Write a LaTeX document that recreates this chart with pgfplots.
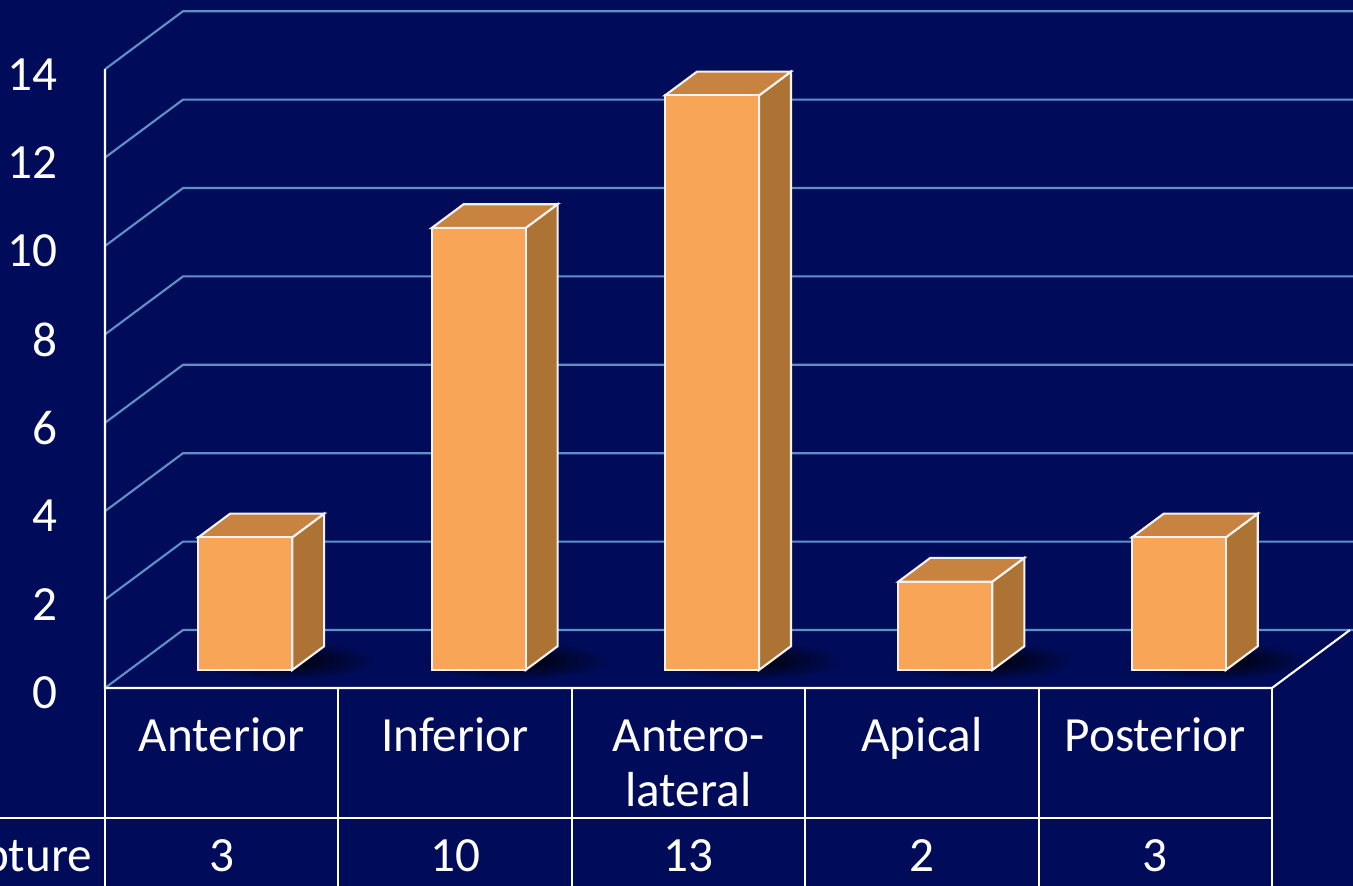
\documentclass[border=0pt]{standalone}
\usepackage{pgfplots}
\pgfplotsset{compat=1.18}
\usepackage{pgfplotstable}
\usepackage{fontspec}
\setmainfont{Carlito}

\definecolor{bg}{RGB}{0,12,90}
\definecolor{gridblue}{RGB}{95,145,200}
\definecolor{barfront}{RGB}{249,165,88}
\definecolor{bartop}{RGB}{201,131,65}
\definecolor{barside}{RGB}{172,115,52}
\definecolor{edge}{RGB}{242,242,242}

% Ruptures by wall segment
\pgfplotstableread{
idx value
0 3
1 10
2 13
3 2
4 3
}\ruptures

\begin{document}
\begin{tikzpicture}[font=\fontsize{14}{16}\selectfont]
\useasboundingbox (0,0) rectangle (13.53cm,8.86cm);
\clip (0,0) rectangle (13.53cm,8.86cm);
\begin{axis}[
  at={(0,0)}, anchor=south west,
  width=13.53cm, height=8.86cm, scale only axis,
  xmin=-0.45, xmax=5.347, ymin=-4.48, ymax=15.566,
  hide axis, clip=false,
]
% background
\fill[bg] (axis cs:-0.45,-4.48) rectangle (axis cs:5.347,15.566);

% back wall and side wall grid (depth vector 0.3342, 1.3122)
\pgfplotsforeachungrouped \t in {0,2,...,14}{
  \pgfmathsetmacro\tb{\t+1.3122}
  \edef\temp{\noexpand\addplot[gridblue, line width=0.6pt] coordinates {(0,\t) (0.3342,\tb) (5.347,\tb)};}
  \temp
}

% shadows on the floor
\pgfplotsforeachungrouped \i in {0,...,4}{
  \pgfmathsetmacro\sx{\i+0.76}
  \edef\temp{\noexpand\shade[inner color=black, outer color=bg] (axis cs:\sx,0.62) ellipse [x radius=0.95cm, y radius=0.2cm];}
  \temp
}

% bars: front, top and side faces
\pgfplotsforeachungrouped \i in {0,...,4}{
  \pgfplotstablegetelem{\i}{value}\of\ruptures
  \pgfmathsetmacro\v{\pgfplotsretval}
  \pgfmathsetmacro\xl{\i+0.3993}
  \pgfmathsetmacro\xr{\xl+0.4027}
  \pgfmathsetmacro\xld{\xl+0.137}
  \pgfmathsetmacro\xrd{\xr+0.137}
  \pgfmathsetmacro\yb{0.407}
  \pgfmathsetmacro\ybd{\yb+0.538}
  \pgfmathsetmacro\yt{\yb+\v}
  \pgfmathsetmacro\ytd{\yt+0.538}
  \edef\temp{%
    \noexpand\addplot[fill=barside, draw=edge, line width=0.6pt] coordinates {(\xr,\yb) (\xrd,\ybd) (\xrd,\ytd) (\xr,\yt)} --cycle;
    \noexpand\addplot[fill=bartop, draw=edge, line width=0.6pt] coordinates {(\xl,\yt) (\xr,\yt) (\xrd,\ytd) (\xld,\ytd)} --cycle;
    \noexpand\addplot[fill=barfront, draw=edge, line width=0.6pt] coordinates {(\xl,\yb) (\xr,\yb) (\xr,\yt) (\xl,\yt)} --cycle;
  }
  \temp
}

% value axis and floor edges
\addplot[white, line width=0.6pt] coordinates {(0,14) (0,0) (5,0) (5.3342,1.3122)};

% data table grid
\addplot[white, line width=0.6pt] coordinates {(-0.45,-2.941) (5,-2.941)};
\pgfplotsforeachungrouped \i in {0,...,5}{
  \edef\temp{\noexpand\addplot[white, line width=0.6pt] coordinates {(\i,0) (\i,-4.48)};}
  \temp
}

% value axis labels
\pgfplotsforeachungrouped \t in {0,2,...,14}{
  \pgfmathsetmacro\ty{\t-0.113}
  \edef\temp{\noexpand\node[white, anchor=east, inner sep=0pt] at (axis cs:-0.2014,\ty) {\t};}
  \temp
}

% category names
\node[white, anchor=base, inner sep=0pt] at (axis cs:0.5,-1.448) {Anterior};
\node[white, anchor=base, inner sep=0pt] at (axis cs:1.5,-1.448) {Inferior};
\node[white, anchor=base, inner sep=0pt] at (axis cs:2.5,-1.448) {Antero-};
\node[white, anchor=base, inner sep=0pt] at (axis cs:2.5,-2.692) {lateral};
\node[white, anchor=base, inner sep=0pt] at (axis cs:3.5,-1.448) {Apical};
\node[white, anchor=base, inner sep=0pt] at (axis cs:4.5,-1.448) {Posterior};

% data row
\node[white, anchor=base east, inner sep=0pt] at (axis cs:-0.0514,-4.163) {Rupture};
\pgfplotsforeachungrouped \i in {0,...,4}{
  \pgfplotstablegetelem{\i}{value}\of\ruptures
  \pgfmathsetmacro\cx{\i+0.5}
  \edef\temp{\noexpand\node[white, anchor=base, inner sep=0pt] at (axis cs:\cx,-4.163) {\pgfplotsretval};}
  \temp
}
\end{axis}
\end{tikzpicture}
\end{document}
